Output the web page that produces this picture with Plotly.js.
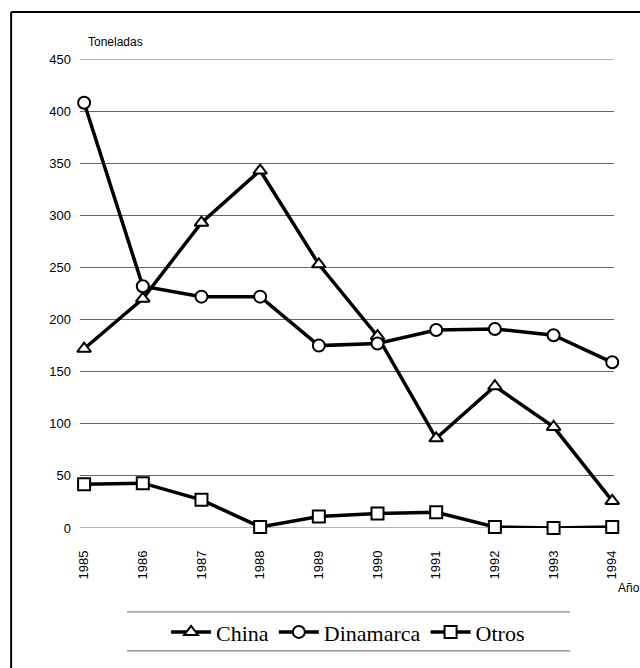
<!DOCTYPE html>
<html><head><meta charset="utf-8">
<script src="https://cdn.plot.ly/plotly-3.0.1.min.js"></script>
<style>html,body{margin:0;padding:0;background:#fff}#c{width:640px;height:668px}</style>
</head><body><div id="c"></div>
<script>
const years = [1985,1986,1987,1988,1989,1990,1991,1992,1993,1994];
const china = [172,220,293,343,253,184,86,136,97,26];
const dinamarca = [408,232,222,222,175,177,190,191,185,159];
const otros = [42,43,27,1,11,14,15,1,0,1];
const yTicks = [0,50,100,150,200,250,300,350,400,450];

function tr(name, y, sym){
  return {x: years, y: y, name: name, type:'scatter', mode:'lines+markers', cliponaxis:false,
    line:{color:'#000', width:3.5},
    marker:{symbol:sym, size:12, color:'#fff', line:{color:'#000', width:2}}};
}
const data = [tr('China', china, 'triangle-up'), tr('Dinamarca', dinamarca, 'circle'), tr('Otros', otros, 'square')];

const layout = {
  width:640, height:668, paper_bgcolor:'#fff', plot_bgcolor:'#fff',
  margin:{l:80, r:26, t:59, b:140},
  font:{family:'Liberation Sans, Arial, sans-serif', color:'#000', size:12},
  xaxis:{range:[1984.93,1994.03], tickvals:years, ticktext:years.map(String), tickangle:-90,
    tickfont:{size:13},
    showgrid:false, zeroline:false, showline:false, ticks:'', ticklabelstandoff:19, fixedrange:true},
  yaxis:{range:[0,450], tickvals:yTicks, showgrid:true, gridcolor:'#666', gridwidth:1,
    tickfont:{size:13},
    zeroline:false, showline:false, ticks:'', ticklabelstandoff:8, fixedrange:true},
  showlegend:true,
  legend:{orientation:'h', x:0.502, xanchor:'center', y:-0.222, yanchor:'middle',
    font:{family:'Liberation Serif, Times New Roman, serif', size:22, color:'#000'},
    itemwidth:40, bgcolor:'rgba(0,0,0,0)'},
  annotations:[
    {text:'Toneladas', xref:'paper', yref:'paper', x:(86-80)/534, y:(528-42)/469, xanchor:'left', yanchor:'middle', showarrow:false, font:{size:12}},
    {text:'Año', xref:'paper', yref:'paper', x:(616-80)/534, y:(528-588)/469, xanchor:'left', yanchor:'middle', showarrow:false, font:{size:12}}
  ],
  shapes:[
    {type:'line', xref:'paper', yref:'paper', x0:-0.129, x1:-0.129, y0:1.1002, y1:-0.31, line:{color:'#000', width:2}},
    {type:'line', xref:'paper', yref:'paper', x0:-0.129, x1:1.13, y0:1.1002, y1:1.1002, line:{color:'#000', width:2}},
    {type:'line', xref:'paper', yref:'paper', x0:0.088, x1:0.918, y0:-0.179, y1:-0.179, line:{color:'#666', width:1}},
    {type:'line', xref:'paper', yref:'paper', x0:0.088, x1:0.918, y0:-0.262, y1:-0.262, line:{color:'#666', width:1}},
    {type:'line', xref:'paper', yref:'y', x0:0, x1:1, y0:0, y1:0, line:{color:'#666', width:1}, layer:'below'},
    {type:'line', xref:'paper', yref:'y', x0:0, x1:1, y0:450, y1:450, line:{color:'#666', width:1}, layer:'below'}
  ]
};
Plotly.newPlot('c', data, layout, {displayModeBar:false, staticPlot:true});
</script></body></html>
